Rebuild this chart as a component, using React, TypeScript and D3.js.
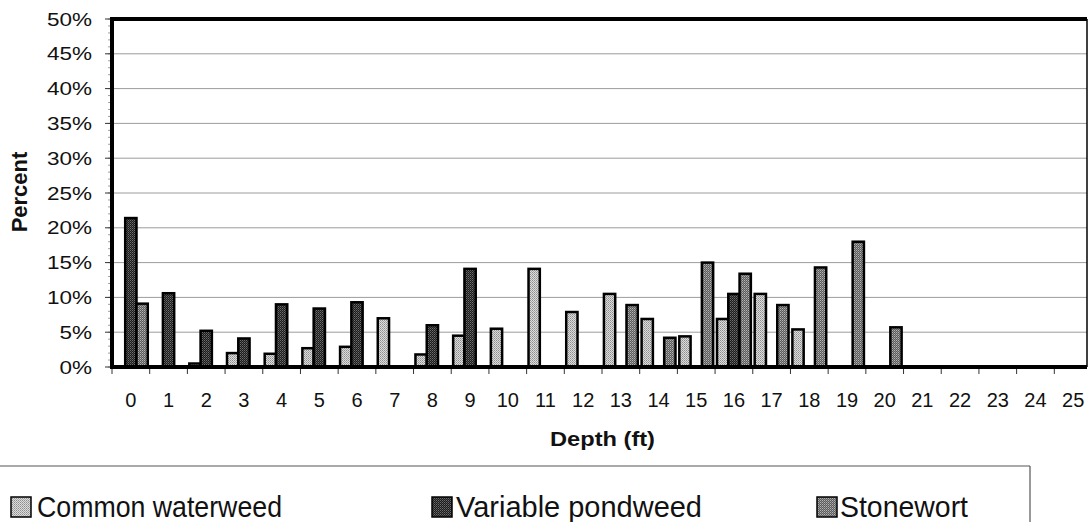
import React from "react";
import * as d3 from "d3";

const categories = ["0","1","2","3","4","5","6","7","8","9","10","11","12","13","14","15","16","17","18","19","20","21","22","23","24","25"];
const commonWaterweed = [0, 0, 0.5, 2.0, 1.9, 2.7, 2.9, 7.0, 1.8, 4.5, 5.5, 14.1, 7.9, 10.5, 6.9, 4.4, 6.9, 10.5, 5.4, 0, 0, 0, 0, 0, 0, 0];
const variablePondweed = [21.4, 10.6, 5.2, 4.1, 9.0, 8.4, 9.3, 0, 6.0, 14.1, 0, 0, 0, 0, 0, 0, 10.5, 0, 0, 0, 0, 0, 0, 0, 0, 0];
const stonewort = [9.1, 0, 0, 0, 0, 0, 0, 0, 0, 0, 0, 0, 0, 8.9, 4.2, 15.0, 13.4, 8.9, 14.3, 18.0, 5.7, 0, 0, 0, 0, 0];
const seriesNames = ["Common waterweed", "Variable pondweed", "Stonewort"];
const yTicks = [0, 5, 10, 15, 20, 25, 30, 35, 40, 45, 50];

const FONT = "'Liberation Sans', Arial, sans-serif";

export default function App() {
  const W = 1088, H = 522;
  const left = 112, right = 1087, top = 19, bottom = 367;
  const x = d3.scaleBand<string>().domain(categories).range([left, 1092]).paddingInner(0).paddingOuter(0);
  const inner = d3.scaleBand<string>().domain(seriesNames).range([0, x.bandwidth()]).paddingInner(0).paddingOuter(0.17);
  const y = d3.scaleLinear().domain([0, 50]).range([bottom, top]);
  const series = [commonWaterweed, variablePondweed, stonewort];
  const patIds = ["patWW", "patVP", "patSW"];
  const minor = d3.range(0, 51, 1);

  return (
    <svg width={W} height={H} style={{ position: "absolute", left: 0, top: 0, background: "#fff" }} fontFamily={FONT}>
      <defs>
        <pattern id="patWW" width="2" height="2" patternUnits="userSpaceOnUse">
          <rect width="2" height="2" fill="#dcdcdc" />
          <rect x="0" y="0" width="1" height="1" fill="#8e8e8e" />
          <rect x="1" y="1" width="1" height="1" fill="#a8a8a8" />
        </pattern>
        <pattern id="patVP" width="2" height="2" patternUnits="userSpaceOnUse">
          <rect width="2" height="2" fill="#1c1c1c" />
          <rect x="0" y="0" width="1" height="1" fill="#6e6e6e" />
          <rect x="1" y="1" width="1" height="1" fill="#4a4a4a" />
        </pattern>
        <pattern id="patSW" width="2" height="2" patternUnits="userSpaceOnUse">
          <rect width="2" height="2" fill="#5c5c5c" />
          <rect x="0" y="0" width="1" height="1" fill="#b4b4b4" />
          <rect x="1" y="1" width="1" height="1" fill="#8a8a8a" />
        </pattern>
      </defs>

      {/* gridlines */}
      {yTicks.filter(t => t > 0 && t < 50).map(t => (
        <line key={"g" + t} x1={left} x2={right} y1={y(t)} y2={y(t)} stroke="#9c9c9c" strokeWidth={1} />
      ))}

      {/* minor y ticks */}
      {minor.map(t => (
        <line key={"m" + t} x1={left - 4} x2={left} y1={y(t)} y2={y(t)} stroke="#888" strokeWidth={0.8} />
      ))}
      {yTicks.map(t => (
        <line key={"t" + t} x1={left - 7} x2={left} y1={y(t)} y2={y(t)} stroke="#333" strokeWidth={1} />
      ))}

      {/* bars */}
      {series.map((vals, si) =>
        vals.map((v, ci) =>
          v > 0 ? (
            <rect
              key={si + "-" + ci}
              x={(x(categories[ci]) as number) + (inner(seriesNames[si]) as number)}
              y={y(v)}
              width={inner.bandwidth()}
              height={y(0) - y(v)}
              fill={`url(#${patIds[si]})`}
              stroke="#000"
              strokeWidth={2.5}
            />
          ) : null
        )
      )}

      {/* frame */}
      <line x1={left} x2={right} y1={top} y2={top} stroke="#000" strokeWidth={4} />
      <line x1={left} x2={left} y1={top - 2} y2={bottom + 2} stroke="#000" strokeWidth={4} />
      <line x1={right} x2={right} y1={top} y2={bottom} stroke="#000" strokeWidth={1.5} />
      <line x1={left} x2={right} y1={bottom} y2={bottom} stroke="#000" strokeWidth={4} />

      {/* x ticks */}
      {categories.map(c => (
        <line key={"xt" + c} x1={x(c) as number} x2={x(c) as number} y1={bottom + 2} y2={bottom + 7} stroke="#333" strokeWidth={1} />
      ))}

      {/* y tick labels */}
      {yTicks.map(t => (
        <text key={"yl" + t} transform={`translate(92, ${y(t) + 6.5}) scale(1.25,1)`} textAnchor="end" fontSize={18} fill="#111">
          {t + "%"}
        </text>
      ))}

      {/* x tick labels */}
      {categories.map(c => (
        <text key={"xl" + c} x={(x(c) as number) + x.bandwidth() / 2} y={407} textAnchor="middle" fontSize={20} fill="#111">
          {c}
        </text>
      ))}

      {/* axis titles */}
      <text transform={`translate(27, 192) rotate(-90)`} textAnchor="middle" fontSize={22} fontWeight="bold" fill="#111">
        Percent
      </text>
      <text x={550} y={446} textLength={105} lengthAdjust="spacingAndGlyphs" fontSize={21} fontWeight="bold" fill="#111">
        Depth (ft)
      </text>

      {/* legend */}
      <line x1={0} x2={1030} y1={466} y2={466} stroke="#555" strokeWidth={1.2} />
      <line x1={1030} x2={1030} y1={466} y2={H} stroke="#555" strokeWidth={1.2} />
      {seriesNames.map((name, i) => {
        const sx = [11, 432, 817][i];
        const tx = [37, 456, 840][i];
        const tw = [245, 246, 128][i];
        return (
          <g key={"lg" + i}>
            <rect x={sx} y={497} width={20} height={20} fill={`url(#${patIds[i]})`} stroke="#000" strokeWidth={1.5} />
            <text x={tx} y={517} fontSize={30} textLength={tw} lengthAdjust="spacingAndGlyphs" fill="#111">
              {name}
            </text>
          </g>
        );
      })}
    </svg>
  );
}
